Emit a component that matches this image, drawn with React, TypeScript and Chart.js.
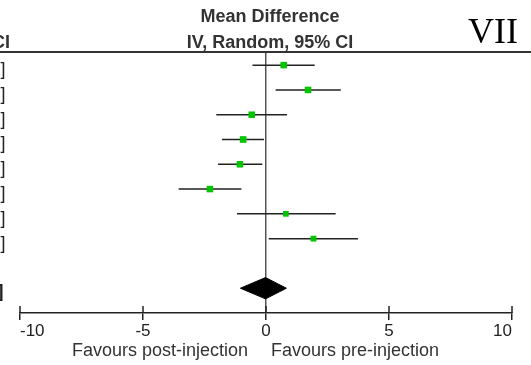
import React, { useEffect, useRef } from 'react';
import { Chart, registerables } from 'chart.js';

Chart.register(...registerables);

// Study estimates (mean difference with 95% CI), top to bottom
const studyMeans = [0.72, 1.71, -0.58, -0.93, -1.06, -2.28, 0.81, 1.93];
const studyLower = [-0.55, 0.39, -2.02, -1.79, -1.95, -3.55, -1.18, 0.11];
const studyUpper = [1.98, 3.04, 0.85, -0.08, -0.15, -1.0, 2.83, 3.74];

// Pooled random-effects estimate
const pooledMean = -0.02;
const pooledLower = -1.04;
const pooledUpper = 0.83;

const xTickValues = [-10, -5, 0, 5, 10];
const headerLines = ['Mean Difference', 'IV, Random, 95% CI'];
const leftLabel = 'Favours post-injection';
const rightLabel = 'Favours pre-injection';
const panelLabel = 'VII';

const POOLED_ROW = 9;
const SANS = '"Liberation Sans", Arial, sans-serif';

const forestDecorations = {
  id: 'forestDecorations',
  afterDraw(chart: any) {
    const { ctx, scales } = chart;
    const xs = scales.x;
    const ys = scales.y;
    const zero = xs.getPixelForValue(0);
    const axisY = xs.top;
    ctx.save();

    // header rule
    ctx.strokeStyle = '#333';
    ctx.lineWidth = 2;
    ctx.beginPath();
    ctx.moveTo(0, 52);
    ctx.lineTo(chart.width, 52);
    ctx.stroke();

    // column heading
    ctx.fillStyle = '#333';
    ctx.font = `bold 18px ${SANS}`;
    ctx.textAlign = 'center';
    ctx.textBaseline = 'middle';
    ctx.fillText(headerLines[0], zero + 4, 17);
    ctx.fillText(headerLines[1], zero + 4, 43);

    // tail of the CI column heading on the left
    ctx.textAlign = 'right';
    ctx.fillText('95% CI', 10, 43);

    // panel numeral
    ctx.fillStyle = '#000';
    ctx.font = `36px "Liberation Serif", "Times New Roman", serif`;
    ctx.textAlign = 'left';
    ctx.textBaseline = 'alphabetic';
    ctx.fillText(panelLabel, 468, 43);

    // closing brackets of the CI text column
    ctx.fillStyle = '#222';
    ctx.font = `18px ${SANS}`;
    ctx.textAlign = 'right';
    studyMeans.forEach((_, i) => {
      ctx.fillText(']', 5.5, ys.getPixelForValue(i) + 10);
    });
    ctx.font = `bold 18px ${SANS}`;
    ctx.fillText(']', 3.5, ys.getPixelForValue(POOLED_ROW) + 9);

    // upward half of the axis tick marks
    ctx.strokeStyle = '#222';
    ctx.lineWidth = 1.5;
    xs.ticks.forEach((t: any) => {
      const px = xs.getPixelForValue(t.value);
      ctx.beginPath();
      ctx.moveTo(px, axisY - 7);
      ctx.lineTo(px, axisY);
      ctx.stroke();
    });

    // direction labels
    ctx.fillStyle = '#333';
    ctx.font = `18px ${SANS}`;
    ctx.textBaseline = 'middle';
    ctx.textAlign = 'right';
    ctx.fillText(leftLabel, zero - 18, 351);
    ctx.textAlign = 'left';
    ctx.fillText(rightLabel, zero + 5, 351);

    ctx.restore();
  },
};

export default function App() {
  const canvasRef = useRef<HTMLCanvasElement | null>(null);

  useEffect(() => {
    if (!canvasRef.current) return;

    const ciDatasets = studyMeans.map((_, i) => ({
      type: 'line' as const,
      data: [
        { x: studyLower[i], y: i },
        { x: studyUpper[i], y: i },
      ],
      borderColor: '#222',
      borderWidth: 1.5,
      pointRadius: 0,
      fill: false,
      order: 2,
    }));

    const diamondHalf = 0.43;
    const diamond = {
      type: 'line' as const,
      data: [
        { x: pooledLower, y: POOLED_ROW },
        { x: pooledMean, y: POOLED_ROW - diamondHalf },
        { x: pooledUpper, y: POOLED_ROW },
        { x: pooledMean, y: POOLED_ROW + diamondHalf },
        { x: pooledLower, y: POOLED_ROW },
      ],
      borderColor: '#000',
      borderWidth: 1,
      backgroundColor: '#000',
      pointRadius: 0,
      fill: 'shape',
      tension: 0,
      order: 2,
    };

    const squares = {
      type: 'scatter' as const,
      data: studyMeans.map((m, i) => ({ x: m, y: i })),
      pointStyle: 'rect',
      pointRadius: [4.6, 4.6, 4.6, 4.7, 4.6, 4.6, 4.0, 4.1],
      backgroundColor: '#00c400',
      borderColor: '#00c400',
      borderWidth: 0,
      order: 1,
    };

    const chart = new Chart(canvasRef.current, {
      type: 'scatter',
      data: { datasets: [...ciDatasets, diamond, squares] as any },
      options: {
        responsive: false,
        devicePixelRatio: 1,
        animation: false,
        layout: { padding: { left: 20, right: 19, top: 52, bottom: 0 } },
        plugins: {
          legend: { display: false },
          tooltip: { enabled: false },
        },
        scales: {
          x: {
            type: 'linear',
            min: -10,
            max: 10,
            afterBuildTicks: (scale: any) => {
              scale.ticks = xTickValues.map((v) => ({ value: v }));
            },
            afterFit: (scale: any) => {
              scale.height = 52;
            },
            border: { display: true, color: '#222', width: 1.5 },
            grid: {
              drawOnChartArea: true,
              drawTicks: true,
              tickLength: 7,
              tickColor: '#222',
              tickWidth: 1.5,
              color: (c: any) => (c.tick && c.tick.value === 0 ? '#555' : 'rgba(0,0,0,0)'),
              lineWidth: 1.5,
            },
            ticks: {
              align: 'inner',
              padding: 1,
              color: '#222',
              font: { family: SANS, size: 17 },
              maxRotation: 0,
            },
          },
          y: {
            type: 'linear',
            display: false,
            reverse: true,
            min: -0.53,
            max: 10.0,
          },
        },
      },
      plugins: [forestDecorations],
    } as any);

    return () => chart.destroy();
  }, []);

  return (
    <div style={{ position: 'fixed', left: 0, top: 0, width: 531, height: 365, background: '#fff' }}>
      <canvas ref={canvasRef} width={531} height={365} />
    </div>
  );
}
